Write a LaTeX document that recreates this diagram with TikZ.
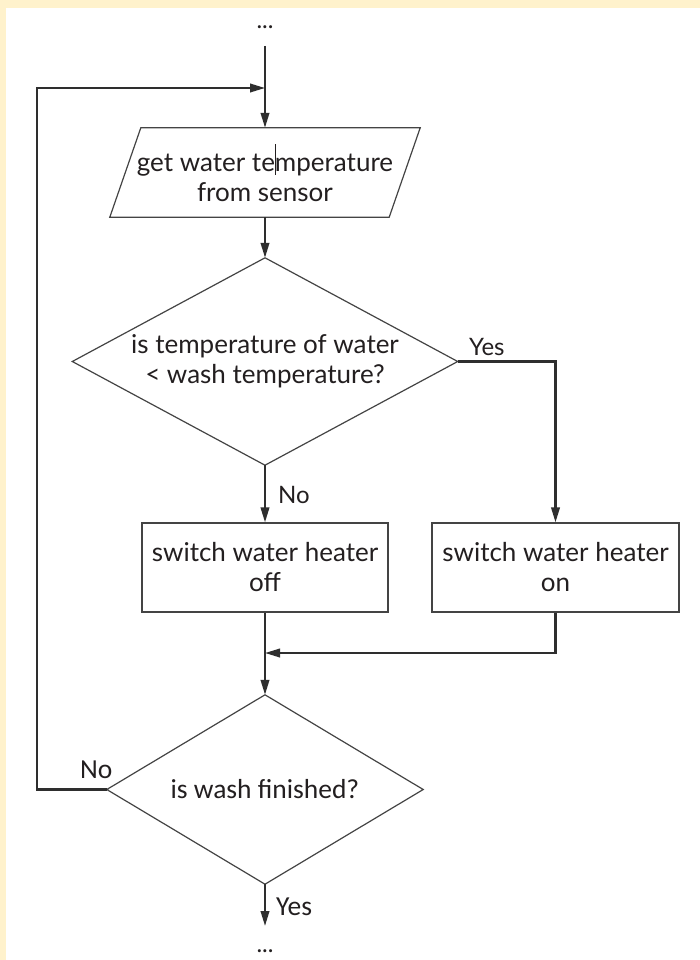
\documentclass[tikz,border=0pt]{standalone}
\usepackage{fontspec}
\setmainfont{Lato}
\newfontfamily\narrowfont{Carlito}
\usetikzlibrary{arrows.meta}
\definecolor{paper}{HTML}{FFF2CC}
\definecolor{ink}{HTML}{231F20}
\definecolor{wire}{HTML}{2E2E2E}
\definecolor{edge}{HTML}{444444}
\tikzset{
  flow/.style={draw=wire, line width=2.2pt, -{Triangle[length=15pt,width=8.5pt]}},
  outline/.style={draw=edge, line width=1.2pt, line join=miter},
  blocktext/.style={inner sep=0pt, align=center, text=ink, font=\fontsize{26}{30}\selectfont},
  stepbox/.style={blocktext, draw=edge, line width=1.2pt, minimum height=89pt},
  lbl/.style={inner sep=0pt, text=ink, font=\fontsize{24}{28}\selectfont},
  lowlbl/.style={inner sep=0pt, text=ink, font=\narrowfont\fontsize{27.5}{30}\selectfont},
}
\begin{document}
\begin{tikzpicture}[x=1pt,y=-1pt]
% page background with the cream edge
\fill[paper] (0,0) rectangle (700,960);
\fill[white] (6,8) rectangle (700,960);
\useasboundingbox (0,0) rectangle (700,960);

% entry point
\node[lbl, anchor=base] (dotsTop) at (265,29) {...};
\coordinate (inTop) at (265,46);
\coordinate (loopJoin) at (265,88);

% input: read the water temperature
\node[blocktext, minimum width=279pt, minimum height=89pt] (inp) at (265,172.5)
  {get water te\rlap{\color{ink}\rule[-0.15em]{0.7pt}{1.2em}}mperature\\from sensor};
\draw[outline] ([xshift=15.5pt]inp.north west) -- ([xshift=15.5pt]inp.north east)
  -- ([xshift=-15.5pt]inp.south east) -- ([xshift=-15.5pt]inp.south west) -- cycle;

% first decision
\node[blocktext, minimum width=385pt, minimum height=207pt] (dec1) at (265,361.5)
  {is temperature of water\\< wash temperature?};
\draw[outline] (dec1.north) -- (dec1.east) -- (dec1.south) -- (dec1.west) -- cycle;

% heater actions
\node[stepbox, minimum width=246pt] (off) at (265,567.5) {switch water heater\\off};
\node[stepbox, minimum width=247pt] (on) at (555.5,567.5) {switch water heater\\on};
\coordinate (merge) at (265,653);

% second decision
\node[lowlbl, minimum width=316pt, minimum height=189pt] (dec2) at (265,789.5) {is wash finished?};
\draw[outline] (dec2.north) -- (dec2.east) -- (dec2.south) -- (dec2.west) -- cycle;

% exit point
\coordinate (outEnd) at (265,926);
\node[lbl, anchor=base] (dotsBot) at (265,952) {...};

% connectors
\draw[flow] (inTop) -- (inp.north);
\draw[flow] (inp.south) -- (dec1.north);
\draw[flow] (dec1.south) -- (off.north);
\draw[flow] (dec1.east) -| (on.north);
\draw[flow] (on.south) |- (merge);
\draw[flow] (off.south) -- (dec2.north);
\draw[flow] (dec2.west) -- ++(-70,0) |- (loopJoin);
\draw[flow] (dec2.south) -- (outEnd);

% branch labels
\node[lbl, anchor=base west] (yes1) at (469,355) {Yes};
\node[lbl, anchor=base west] (no1) at (278,503) {No};
\node[lowlbl, anchor=base west] (no2) at (80,778) {No};
\node[lowlbl, anchor=base west] (yes2) at (276,915) {Yes};
\end{tikzpicture}
\end{document}
